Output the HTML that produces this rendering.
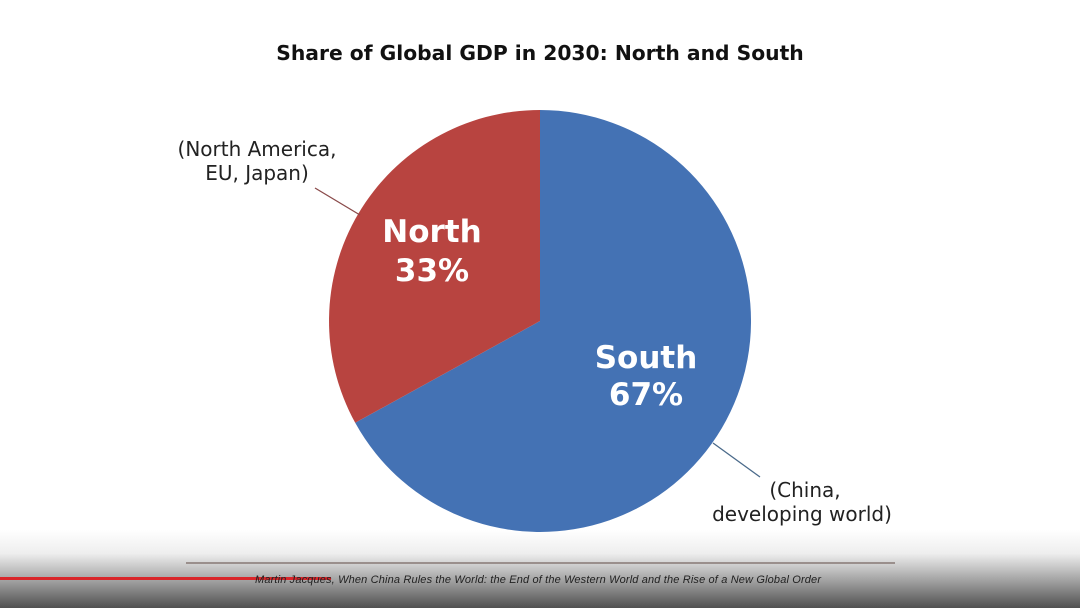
<!DOCTYPE html>
<html><head><meta charset="utf-8"><style>
html,body{margin:0;padding:0;width:1080px;height:608px;overflow:hidden;background:#fff}
svg{display:block}
</style></head><body>
<svg width="1080" height="608" viewBox="0 0 1080 608" xmlns="http://www.w3.org/2000/svg">
<defs>
<linearGradient id="g" x1="0" y1="0" x2="0" y2="1">
<stop offset="0" stop-color="#ffffff"/>
<stop offset="0.3" stop-color="#eeeeee"/>
<stop offset="0.55" stop-color="#b8b8b8"/>
<stop offset="1" stop-color="#505050"/>
</linearGradient>
</defs>
<rect x="0" y="0" width="1080" height="608" fill="#fff"/>
<rect x="0" y="530" width="1080" height="78" fill="url(#g)"/>
<text x="540" y="60" text-anchor="middle" font-family="DejaVu Sans, Liberation Sans, sans-serif" font-weight="bold" font-size="20.3" fill="#111">Share of Global GDP in 2030: North and South</text>
<path d="M540,321 L540,110 A211,211 0 1 1 355.2,422.8 Z" fill="#4472b4"/>
<path d="M540,321 L355.2,422.8 A211,211 0 0 1 540,110 Z" fill="#b84440"/>
<line x1="315" y1="188" x2="360" y2="215" stroke="#8a4a4a" stroke-width="1.3"/>
<line x1="713" y1="443" x2="760" y2="477" stroke="#4a6a8a" stroke-width="1.3"/>
<g font-family="DejaVu Sans, Liberation Sans, sans-serif" font-size="20" fill="#222" text-anchor="middle">
<text x="257" y="156">(North America,</text>
<text x="257" y="180">EU, Japan)</text>
<text x="805" y="497">(China,</text>
<text x="802" y="521">developing world)</text>
</g>
<g font-family="DejaVu Sans, Liberation Sans, sans-serif" font-weight="bold" font-size="31" fill="#fff" text-anchor="middle">
<text x="432" y="242">North</text>
<text x="432" y="281">33%</text>
<text x="646" y="368">South</text>
<text x="646" y="405">67%</text>
</g>
<line x1="186" y1="563" x2="895" y2="563" stroke="#9a8f8c" stroke-width="2"/>
<rect x="0" y="577" width="331" height="3" fill="#d9262a"/>
<text x="538" y="583" text-anchor="middle" font-family="Liberation Sans, sans-serif" font-style="italic" font-size="11" fill="#222" textLength="566">Martin Jacques, When China Rules the World: the End of the Western World and the Rise of a New Global Order</text>
</svg>
</body></html>
